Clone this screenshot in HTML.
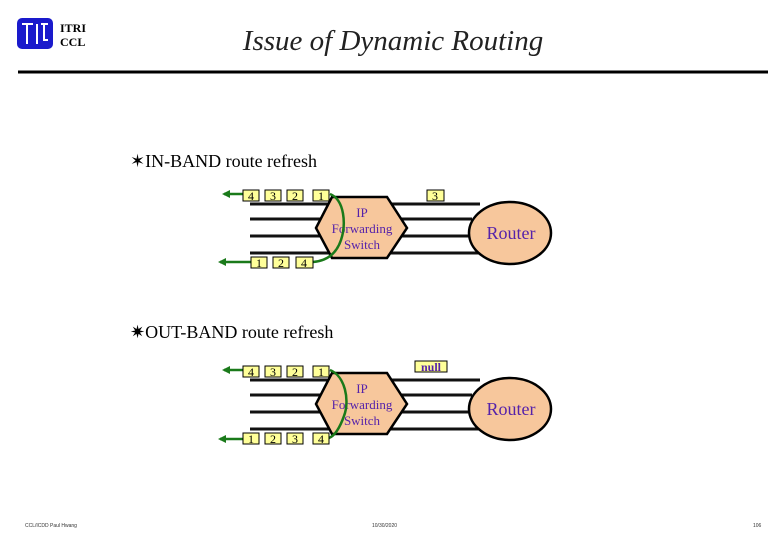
<!DOCTYPE html>
<html><head><meta charset="utf-8"><style>
html,body{margin:0;padding:0;background:#fff;width:780px;height:540px;overflow:hidden}
svg{display:block}
</style></head><body>
<svg width="780" height="540" viewBox="0 0 780 540" xmlns="http://www.w3.org/2000/svg" font-family="Liberation Serif, serif">
<defs>
<marker id="ah" markerWidth="8" markerHeight="8" refX="6" refY="4" orient="auto" markerUnits="userSpaceOnUse"><path d="M0,0 L8,4 L0,8 z" fill="#1a7a1a"/></marker>
<g id="base">
<g stroke="#111" stroke-width="3">
<line x1="250" y1="204" x2="335" y2="204"/><line x1="250" y1="219" x2="330" y2="219"/>
<line x1="250" y1="236" x2="330" y2="236"/><line x1="250" y1="253" x2="335" y2="253"/>
<line x1="390" y1="204" x2="480" y2="204"/><line x1="400" y1="219" x2="472" y2="219"/>
<line x1="400" y1="236" x2="472" y2="236"/><line x1="390" y1="253" x2="480" y2="253"/>
</g>
<polygon points="316,228 332,197 387,197 407,228 387,258 332,258" fill="#f7c79c" stroke="#000" stroke-width="2.5"/>
<ellipse cx="510" cy="233" rx="41" ry="31" fill="#f7c79c" stroke="#000" stroke-width="2.5"/>
<text x="511" y="239" font-size="18" fill="#5522aa" text-anchor="middle">Router</text>
<g font-size="13" fill="#5522aa" text-anchor="middle"><text x="362" y="217">IP</text><text x="362" y="233">Forwarding</text><text x="362" y="249">Switch</text></g>
</g>
</defs>

<!-- header -->
<rect x="17" y="18" width="36" height="31" rx="5" fill="#1a1acc"/>
<g stroke="#fff" stroke-width="2" fill="none">
<path d="M22,24 H33 M27,24 V44 M37,24 V44 M41,24 H48 M44,24 V40 H48"/>
</g>
<text x="60" y="32" font-size="12" font-weight="bold">ITRI</text>
<text x="60" y="46" font-size="12" font-weight="bold">CCL</text>
<text x="393" y="50" font-size="29" font-style="italic" fill="#222" text-anchor="middle">Issue of Dynamic Routing</text>
<line x1="18" y1="72" x2="768" y2="72" stroke="#000" stroke-width="3"/>

<text x="130" y="167" font-size="18">✶IN-BAND route refresh</text>
<text x="130" y="338" font-size="18">✷OUT-BAND route refresh</text>

<!-- diagram 1 -->
<use href="#base"/>
<g stroke="#1a7a1a" stroke-width="2.5" fill="none">
<line x1="243" y1="194" x2="224" y2="194" marker-end="url(#ah)"/>
<path d="M330,194 C345,200 346,225 341,240 C336,255 325,261 313,262"/>
<line x1="251" y1="262" x2="220" y2="262" marker-end="url(#ah)"/>
</g>
<g stroke="#000" stroke-width="1" fill="#ffff99">
<rect x="243" y="190" width="16" height="11"/><rect x="265" y="190" width="16" height="11"/>
<rect x="287" y="190" width="16" height="11"/><rect x="313" y="190" width="16" height="11"/>
<rect x="427" y="190" width="17" height="11"/>
<rect x="251" y="257" width="16" height="11"/><rect x="273" y="257" width="16" height="11"/>
<rect x="296" y="257" width="17" height="11"/>
</g>
<g font-size="12" text-anchor="middle">
<text x="251" y="200">4</text><text x="273" y="200">3</text><text x="295" y="200">2</text><text x="321" y="200">1</text>
<text x="435" y="200">3</text>
<text x="259" y="267">1</text><text x="281" y="267">2</text><text x="304" y="267">4</text>
</g>

<!-- diagram 2 -->
<use href="#base" transform="translate(0,176)"/>
<g stroke="#1a7a1a" stroke-width="2.5" fill="none">
<line x1="243" y1="370" x2="224" y2="370" marker-end="url(#ah)"/>
<path d="M330,370 C345,376 350,400 344,416 C339,430 334,436 329,438"/>
<line x1="243" y1="439" x2="220" y2="439" marker-end="url(#ah)"/>
</g>
<g stroke="#000" stroke-width="1" fill="#ffff99">
<rect x="243" y="366" width="16" height="11"/><rect x="265" y="366" width="16" height="11"/>
<rect x="287" y="366" width="16" height="11"/><rect x="313" y="366" width="16" height="11"/>
<rect x="415" y="361" width="32" height="11"/>
<rect x="243" y="433" width="16" height="11"/><rect x="265" y="433" width="16" height="11"/>
<rect x="287" y="433" width="16" height="11"/><rect x="313" y="433" width="16" height="11"/>
</g>
<g font-size="12" text-anchor="middle">
<text x="251" y="376">4</text><text x="273" y="376">3</text><text x="295" y="376">2</text><text x="321" y="376">1</text>
<text x="431" y="371" font-weight="bold" fill="#5522aa">null</text>
<text x="251" y="443">1</text><text x="273" y="443">2</text><text x="295" y="443">3</text><text x="321" y="443">4</text>
</g>

<!-- footer -->
<g font-family="Liberation Sans,sans-serif" font-size="5" fill="#333">
<text x="25" y="527">CCL/ICDD Paul Hwang</text>
<text x="372" y="527">10/30/2020</text>
<text x="753" y="527">106</text>
</g>
</svg>
</body></html>
